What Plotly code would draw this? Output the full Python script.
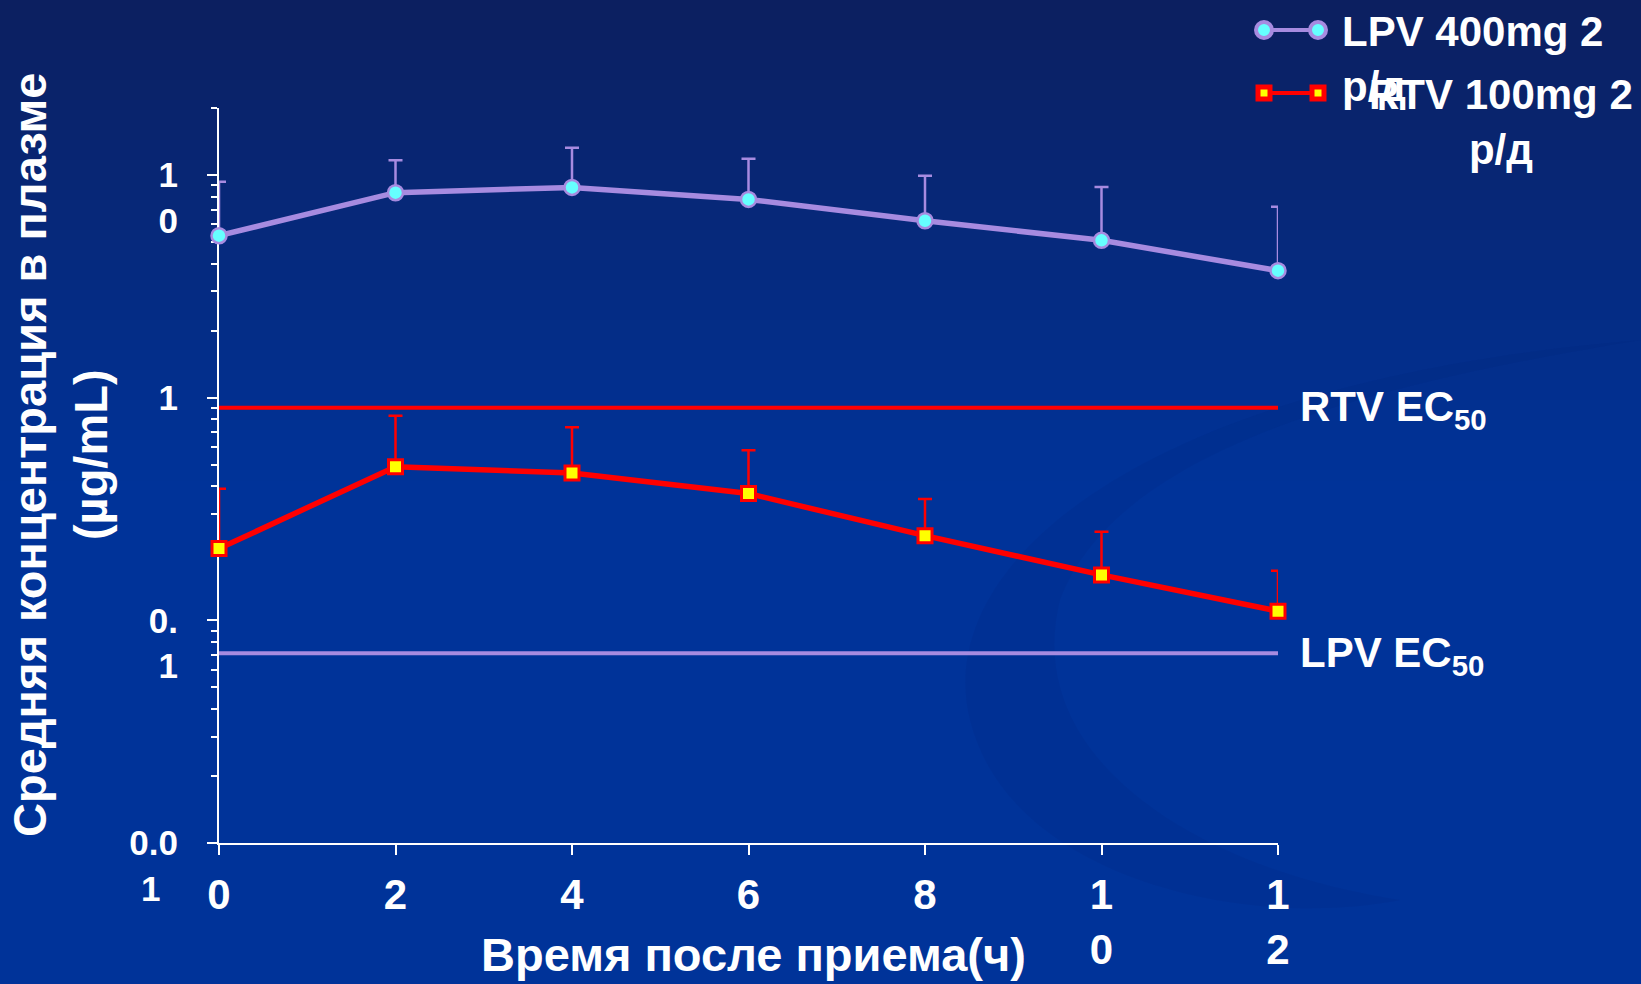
import numpy as np
import plotly.graph_objects as go

# ---------------- data ----------------
hours = [0, 2, 4, 6, 8, 10, 12]
lpv_mean = [5.34, 8.33, 8.80, 7.77, 6.23, 5.09, 3.72]
lpv_upper = [9.33, 11.66, 13.27, 11.84, 9.93, 8.83, 7.20]
rtv_mean = [0.210, 0.490, 0.4585, 0.371, 0.240, 0.160, 0.110]
rtv_upper = [0.390, 0.830, 0.736, 0.580, 0.351, 0.250, 0.167]
rtv_ec50 = 0.902
lpv_ec50 = 0.0711

x_tick_vals = [0, 2, 4, 6, 8, 10, 12]
x_tick_text = ["0", "2", "4", "6", "8", "1<br>0", "1<br>2"]
y_tick_vals = [0.01, 0.1, 1, 10]
y_tick_text = [" <br>0.0<br>1\u2002", " <br>0.<br>1", "1", " <br>1<br>0"]
y_minor_vals = [m * 10.0 ** e for e in (-2, -1, 0) for m in range(2, 10)] + [20]
y_max = 20

series_names = ["LPV 400mg 2 р/д", "RTV 100mg 2 р/д"]
legend_labels = ["LPV 400mg 2<br>р/д", "RTV 100mg 2<br>р/д"]
ec50_labels = ["RTV EC<sub>50</sub>", "LPV EC<sub>50</sub>"]
x_title = "Время после приема(ч)"
y_title = "Средняя концентрация в плазме<br>(µg/mL)"

# ---------------- style ----------------
LAV = "#a78be0"
CYAN = "#66ffff"
RED = "#ff0000"
YEL = "#ffff00"
BG = "#003399"
FONT = "Liberation Sans, Arial, sans-serif"

W, H = 1641, 984
ML, MR, MT, MB = 219, 363, 108, 141
PL, PR, PT, PB = ML, W - MR, MT, H - MB


def px(xp):
    return (xp - PL) / (PR - PL)


def py(yp):
    return (PB - yp) / (PB - PT)


fig = go.Figure()

# EC50 reference lines
fig.add_trace(go.Scatter(x=[hours[0], hours[-1]], y=[rtv_ec50, rtv_ec50], mode="lines",
                         line=dict(color=RED, width=4), showlegend=False, hoverinfo="skip",
                         cliponaxis=False))
fig.add_trace(go.Scatter(x=[hours[0], hours[-1]], y=[lpv_ec50, lpv_ec50], mode="lines",
                         line=dict(color=LAV, width=4), showlegend=False, hoverinfo="skip",
                         cliponaxis=False))

# series
lpv_plus = [u - m for u, m in zip(lpv_upper, lpv_mean)]
rtv_plus = [u - m for u, m in zip(rtv_upper, rtv_mean)]
fig.add_trace(go.Scatter(
    x=hours, y=lpv_mean, name=series_names[0], mode="lines+markers",
    line=dict(color=LAV, width=5.5),
    marker=dict(symbol="circle", size=15, color=CYAN, line=dict(color=LAV, width=2.5)),
    error_y=dict(type="data", symmetric=False, array=lpv_plus, arrayminus=[0] * len(hours),
                 color=LAV, thickness=2.5, width=7),
    showlegend=False, cliponaxis=False))
fig.add_trace(go.Scatter(
    x=hours, y=rtv_mean, name=series_names[1], mode="lines+markers",
    line=dict(color=RED, width=5.5),
    marker=dict(symbol="square", size=14, color=YEL, line=dict(color=RED, width=3)),
    error_y=dict(type="data", symmetric=False, array=rtv_plus, arrayminus=[0] * len(hours),
                 color=RED, thickness=2.5, width=7),
    showlegend=False, cliponaxis=False))

# ---------------- background gradient ----------------
shapes = []
top = np.array([12, 31, 95])
bot = np.array([0, 51, 153])
N = 48
grad_h = 480
for i in range(N):
    t = (i + 0.5) / N
    c = top + (bot - top) * t
    shapes.append(dict(type="rect", xref="paper", yref="paper",
                       x0=px(0), x1=px(W), y0=py(i * grad_h / N + grad_h / N + 1), y1=py(i * grad_h / N),
                       fillcolor="rgb(%d,%d,%d)" % tuple(c.round()), line=dict(width=0), layer="below"))

# faint swirl (crescent)
shapes.append(dict(type="path", xref="paper", yref="paper", layer="below",
                   path=("M {a},{b} C {c},{d} {e},{f} {g},{h} C {i},{j} {k},{l} {m},{n} "
                         "C {o},{p} {q},{r} {s},{t} C {u},{v} {w},{x} {a},{b} Z").format(
                       a=px(1641), b=py(340),
                       c=px(1150), d=py(380), e=px(930), f=py(560), g=px(970), h=py(720),
                       i=px(1010), j=py(880), k=px(1250), l=py(930), m=px(1400), n=py(900),
                       o=px(1200), p=py(870), q=px(1020), r=py(760), s=px(1060), t=py(600),
                       u=px(1120), v=py(440), w=px(1400), x=py(380)),
                   fillcolor="rgba(0,30,110,0.10)", line=dict(width=0)))

# ---------------- legend (manual) ----------------
shapes.append(dict(type="line", xref="paper", yref="paper", x0=px(1264), x1=px(1318), y0=py(30), y1=py(30),
                   line=dict(color=LAV, width=4)))
for cx in (1264, 1318):
    shapes.append(dict(type="circle", xref="paper", yref="paper", xsizemode="pixel", ysizemode="pixel",
                       xanchor=px(cx), yanchor=py(30), x0=-8, x1=8, y0=-8, y1=8,
                       fillcolor=CYAN, line=dict(color=LAV, width=4)))
shapes.append(dict(type="line", xref="paper", yref="paper", x0=px(1264), x1=px(1318), y0=py(93), y1=py(93),
                   line=dict(color=RED, width=4)))
for cx in (1264, 1318):
    shapes.append(dict(type="rect", xref="paper", yref="paper", xsizemode="pixel", ysizemode="pixel",
                       xanchor=px(cx), yanchor=py(93), x0=-6, x1=6, y0=-6, y1=6,
                       fillcolor=YEL, line=dict(color=RED, width=5)))

txt = dict(family=FONT, size=42, color="white", weight="bold")
annotations = [
    dict(text=legend_labels[0], xref="paper", yref="paper", x=px(1340), y=py(59), xanchor="left",
         yanchor="middle", align="left", showarrow=False, font=txt),
    dict(text=legend_labels[1], xref="paper", yref="paper", x=px(1501), y=py(122), xanchor="center",
         yanchor="middle", align="center", showarrow=False, font=txt),
    dict(text=ec50_labels[0], xref="x", yref="y", x=hours[-1], y=np.log10(rtv_ec50), xanchor="left",
         yanchor="middle", xshift=20, yshift=-2, showarrow=False, font=txt),
    dict(text=ec50_labels[1], xref="x", yref="y", x=hours[-1], y=np.log10(lpv_ec50), xanchor="left",
         yanchor="middle", xshift=20, yshift=-2, showarrow=False, font=txt),
    dict(text=x_title, xref="paper", yref="paper", x=px(753), y=py(955), xanchor="center",
         yanchor="middle", showarrow=False, font=dict(family=FONT, size=47, color="white", weight="bold")),
    dict(text=y_title, xref="paper", yref="paper", x=px(60), y=py(455), xanchor="center",
         yanchor="middle", textangle=-90, showarrow=False,
         font=dict(family=FONT, size=47, color="white", weight="bold")),
]

fig.update_layout(
    width=W, height=H,
    margin=dict(l=ML, r=MR, t=MT, b=MB, autoexpand=False),
    paper_bgcolor=BG, plot_bgcolor="rgba(0,0,0,0)",
    shapes=shapes, annotations=annotations,
    showlegend=False,
    xaxis=dict(range=[0, 12], tickmode="array", tickvals=x_tick_vals, ticktext=x_tick_text,
               ticks="outside", ticklen=10, tickwidth=2, tickcolor="white",
               showline=True, linecolor="white", linewidth=2, showgrid=False, zeroline=False,
               tickfont=dict(family=FONT, size=42, color="white", weight="bold"),
               ticklabelstandoff=4, layer="below traces", automargin=False),
    yaxis=dict(type="log", range=[-2, np.log10(y_max)], tickmode="array", tickvals=y_tick_vals,
               ticktext=y_tick_text, ticks="outside", ticklen=10, tickwidth=2, tickcolor="white",
               showline=True, linecolor="white", linewidth=2, showgrid=False, zeroline=False,
               minor=dict(tickmode="array", tickvals=y_minor_vals, ticks="outside", ticklen=6,
                          tickwidth=2, tickcolor="white", showgrid=False),
               tickfont=dict(family=FONT, size=35, color="white", weight="bold"),
               ticklabelstandoff=22, layer="below traces", automargin=False),
)

fig.write_html("out.html", config={"displayModeBar": False},
               post_script="document.body.style.margin='0px';document.body.style.overflow='hidden';")
